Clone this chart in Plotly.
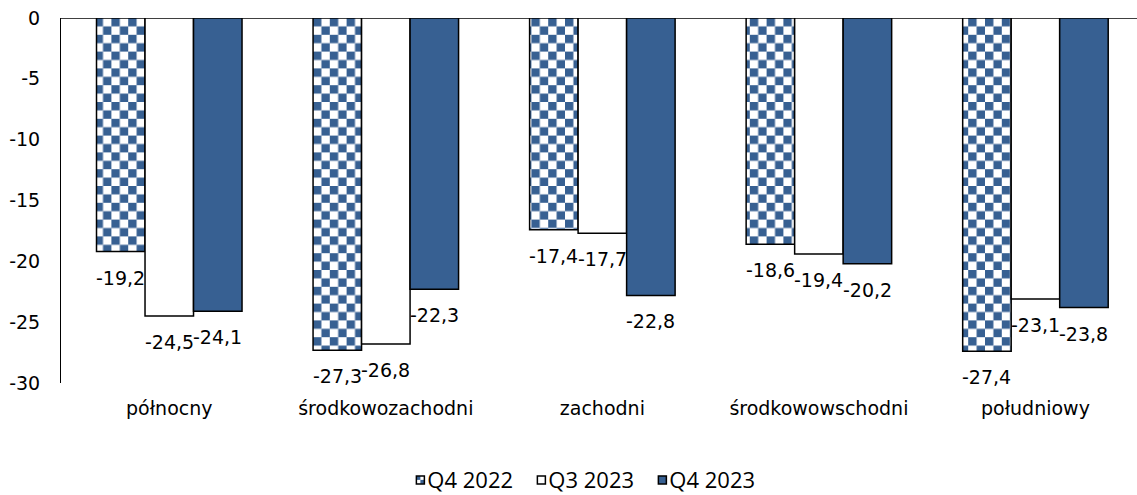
import plotly.graph_objects as go

categories = ["północny", "środkowozachodni", "zachodni", "środkowowschodni", "południowy"]
series_names = ["Q4 2022", "Q3 2023", "Q4 2023"]
q4_2022 = [-19.2, -27.3, -17.4, -18.6, -27.4]
q3_2023 = [-24.5, -26.8, -17.7, -19.4, -23.1]
q4_2023 = [-24.1, -22.3, -22.8, -20.2, -23.8]
y_ticks = [0, -5, -10, -15, -20, -25, -30]

BLUE = "#376092"
series_values = [q4_2022, q3_2023, q4_2023]
fills = ["#ffffff", "#ffffff", BLUE]
BARGAP = 0.328
LABEL_FONT = dict(family="DejaVu Sans", size=19, color="#000000")

fig = go.Figure()
for name, vals, fc in zip(series_names, series_values, fills):
    fig.add_trace(go.Bar(
        x=categories, y=vals, name=name,
        marker=dict(color=fc, line=dict(color="#000000", width=1.5)),
        hoverinfo="skip",
    ))

def fmt(v):
    return f"{v:.1f}".replace(".", ",")

slot = (1 - BARGAP) / len(series_values)
annotations = []
for j, vals in enumerate(series_values):
    off = (j - (len(series_values) - 1) / 2) * slot
    for i, v in enumerate(vals):
        annotations.append(dict(
            x=i + off, y=v, xref="x", yref="y", text=fmt(v),
            showarrow=False, yanchor="middle", xanchor="center",
            yshift=-26, font=LABEL_FONT,
        ))

fig.update_layout(
    width=1137, height=495, autosize=False,
    margin=dict(l=61, r=0, t=18, b=112, pad=0, autoexpand=False),
    paper_bgcolor="#ffffff", plot_bgcolor="#ffffff",
    barmode="group", bargap=BARGAP, bargroupgap=0,
    annotations=annotations,
    showlegend=True,
    legend=dict(
        orientation="h", x=0.472, xanchor="center", y=-0.266, yanchor="middle",
        font=dict(family="Open Sans", size=22, color="#000000"),
        itemwidth=30, traceorder="normal", entrywidth=76,
    ),
    xaxis=dict(
        type="category", range=[-0.5, 4.469], showline=False, showgrid=False,
        ticks="", ticklabelstandoff=12,
        tickfont=dict(family="DejaVu Sans", size=19, color="#000000"),
    ),
    yaxis=dict(
        range=[-30, 0], tickvals=y_ticks, ticktext=[str(t) for t in y_ticks],
        showline=True, linecolor="#000000", linewidth=1, showgrid=False,
        zeroline=True, zerolinecolor="#404040", zerolinewidth=1,
        ticks="", ticklabelstandoff=16,
        tickfont=dict(family="DejaVu Sans", size=19, color="#000000"),
    ),
)

post_script = """
document.body.style.margin = '0';
document.body.style.padding = '0';
var gd = document.getElementById('{plot_id}');
(function(){
  var ns = 'http://www.w3.org/2000/svg';
  var svg = gd.querySelector('svg.main-svg');
  var defs = svg.querySelector('defs');
  function mkPattern(id, tile, sq, blue) {
    if (document.getElementById(id)) return;
    var p = document.createElementNS(ns, 'pattern');
    p.setAttribute('id', id);
    p.setAttribute('patternUnits', 'userSpaceOnUse');
    p.setAttribute('width', tile);
    p.setAttribute('height', tile);
    var bg = document.createElementNS(ns, 'rect');
    bg.setAttribute('x', 0); bg.setAttribute('y', 0);
    bg.setAttribute('width', tile); bg.setAttribute('height', tile);
    bg.setAttribute('fill', '#ffffff');
    p.appendChild(bg);
    var pos = [[0, 0], [sq, sq]];
    pos.forEach(function(q){
      var r = document.createElementNS(ns, 'rect');
      r.setAttribute('x', q[0]); r.setAttribute('y', q[1]);
      r.setAttribute('width', sq); r.setAttribute('height', sq);
      r.setAttribute('fill', blue);
      p.appendChild(r);
    });
    defs.appendChild(p);
  }
  mkPattern('checker', 16.8, 8.4, '#376092');
  mkPattern('checkerleg', 8, 4, '#376092');
  var traces = gd.querySelectorAll('.barlayer .trace');
  if (traces.length) {
    traces[0].querySelectorAll('path').forEach(function(el){
      el.style.fill = 'url(#checker)';
    });
  }
  gd.querySelectorAll('.legend [clip-path]').forEach(function(el){
    el.removeAttribute('clip-path');
  });
  var legs = gd.querySelectorAll('.legend .traces');
  legs.forEach(function(tr, k){
    var pth = tr.querySelector('.legendpoints path');
    if (!pth) return;
    pth.setAttribute('d', 'M4,4H-4V-4H4Z');
    pth.setAttribute('transform', 'translate(33,0)');
    if (k === 0) pth.style.fill = 'url(#checkerleg)';
  });
})();
"""

fig.write_html("out.html", post_script=post_script, config={"displayModeBar": False})
